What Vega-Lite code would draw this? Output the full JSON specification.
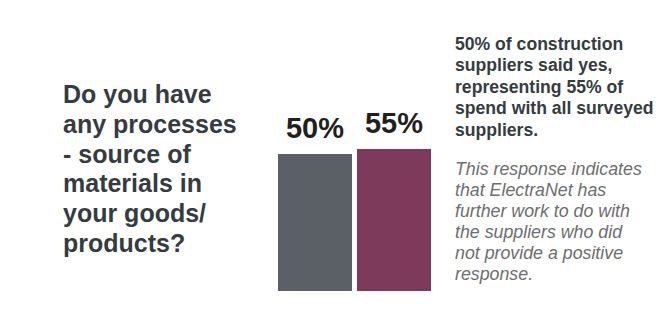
{
  "$schema": "https://vega.github.io/schema/vega-lite/v6.json",
  "width": 667,
  "height": 313,
  "autosize": {"type": "fit", "contains": "padding"},
  "padding": {"left": 25, "top": 12, "right": 0, "bottom": 2},
  "background": "#ffffff",
  "config": {"view": {"fill": "#e9eaeb", "stroke": null}},
  "datasets": {
    "bars": [
      {"measure": "Construction suppliers said yes", "value": 50, "label": "50%"},
      {"measure": "Share of spend with all surveyed suppliers", "value": 55, "label": "55%"}
    ],
    "question": [
      {"text": "Do you have\nany processes\n- source of\nmaterials in\nyour goods/\nproducts?"}
    ],
    "finding": [
      {"text": "50% of construction\nsuppliers said yes,\nrepresenting 55% of\nspend with all surveyed\nsuppliers."}
    ],
    "note": [
      {"text": "This response indicates\nthat ElectraNet has\nfurther work to do with\nthe suppliers who did\nnot provide a positive\nresponse."}
    ]
  },
  "layer": [
    {
      "data": {"name": "bars"},
      "mark": {"type": "bar"},
      "encoding": {
        "x": {
          "field": "measure", "type": "nominal", "axis": null, "sort": null,
          "scale": {"range": [253, 406], "paddingInner": 0.0633, "paddingOuter": 0}
        },
        "y": {
          "field": "value", "type": "quantitative", "axis": null,
          "scale": {"domain": [-107, 192], "zero": false, "nice": false}
        },
        "y2": {"datum": -87},
        "color": {
          "field": "measure", "type": "nominal", "legend": null,
          "scale": {"range": ["#5a6066", "#7e3a5a"]}
        }
      }
    },
    {
      "data": {"name": "bars"},
      "mark": {"type": "text", "font": "Liberation Sans", "fontWeight": "bold", "fontSize": 29, "baseline": "alphabetic", "align": "center", "dy": -16, "color": "#231f20"},
      "encoding": {
        "x": {"field": "measure", "type": "nominal", "sort": null},
        "y": {"field": "value", "type": "quantitative"},
        "text": {"field": "label", "type": "nominal"}
      }
    },
    {
      "data": {"name": "question"},
      "mark": {"type": "text", "font": "Liberation Sans", "fontWeight": "bold", "fontSize": 25, "lineBreak": "\n", "lineHeight": 29.8, "align": "left", "baseline": "alphabetic", "color": "#353c41", "x": 38, "y": 91},
      "encoding": {"text": {"field": "text", "type": "nominal"}}
    },
    {
      "data": {"name": "finding"},
      "mark": {"type": "text", "font": "Liberation Sans", "fontWeight": "bold", "fontSize": 17.6, "lineBreak": "\n", "lineHeight": 21.4, "align": "left", "baseline": "alphabetic", "color": "#353c41", "x": 430, "y": 38},
      "encoding": {"text": {"field": "text", "type": "nominal"}}
    },
    {
      "data": {"name": "note"},
      "mark": {"type": "text", "font": "Liberation Sans", "fontStyle": "italic", "fontSize": 17.8, "lineBreak": "\n", "lineHeight": 21, "align": "left", "baseline": "alphabetic", "color": "#6d6e70", "x": 430, "y": 163},
      "encoding": {"text": {"field": "text", "type": "nominal"}}
    }
  ]
}
